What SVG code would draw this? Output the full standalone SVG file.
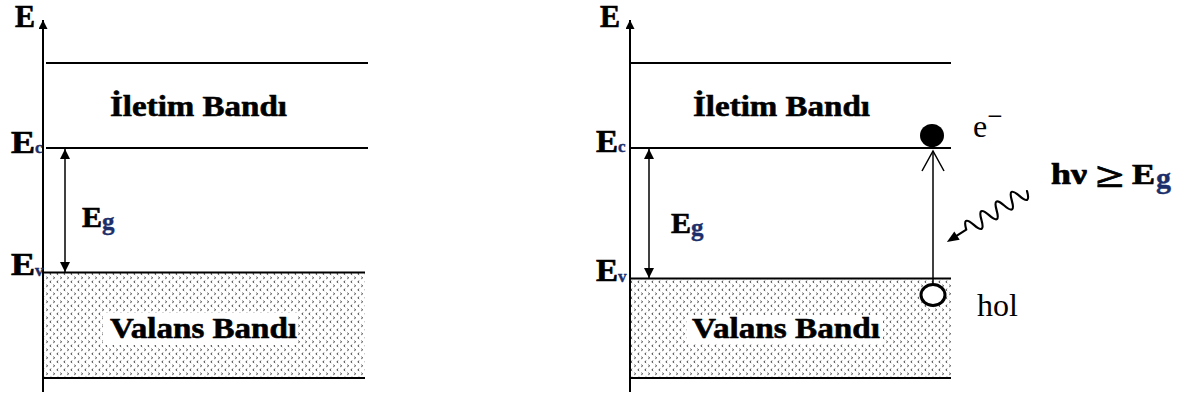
<svg xmlns="http://www.w3.org/2000/svg" width="1184" height="396" viewBox="0 0 1184 396">
  <style>
    .ln { stroke: #000; stroke-width: 2; fill: none; }
    .thin { stroke: #000; stroke-width: 1.5; fill: none; }
    .wave { stroke: #000; stroke-width: 2.2; fill: none; stroke-linecap: round; stroke-linejoin: round; }
    .lbl { font-family: "Liberation Serif", "Times New Roman", serif; font-weight: bold; fill: #000; stroke: #000; stroke-width: 0.7; }
    .band { font-family: "Liberation Serif", "Times New Roman", serif; font-weight: bold; font-size: 30px; fill: #000; stroke: #000; stroke-width: 0.6; }
    .sub { font-family: "Liberation Serif", "Times New Roman", serif; font-weight: bold; fill: #1d2f6b; stroke: #1d2f6b; stroke-width: 0.4; }
    .reg { font-family: "Liberation Serif", "Times New Roman", serif; fill: #000; }
    .chev { stroke: #444; stroke-width: 1; fill: none; }
  </style>
  <defs>
    <!-- stippled fill of the valence band: rows of tiny chevrons -->
    <pattern id="dots" width="7" height="8" patternUnits="userSpaceOnUse">
      <rect width="7" height="8" fill="#fff"/>
      <path class="chev" d="M2.2,0.8 L0.8,1.8 L2.2,2.8"/>
      <path class="chev" d="M4.3,4.8 L5.7,5.8 L4.3,6.8"/>
    </pattern>
    <marker id="tri" viewBox="0 0 10 10" refX="10" refY="5" markerWidth="10" markerHeight="10" markerUnits="userSpaceOnUse" orient="auto-start-reverse">
      <path d="M0,0 L10,5 L0,10 Z" fill="#000"/>
    </marker>
    <marker id="axisHead" viewBox="0 0 10 10" refX="10" refY="5" markerWidth="11" markerHeight="9" markerUnits="userSpaceOnUse" orient="auto">
      <path d="M0,0 L10,5 L0,10 Z" fill="#000"/>
    </marker>
  </defs>
  <rect width="1184" height="396" fill="#fff"/>

  <!-- Left panel: band diagram -->
  <g id="left-bands">
    <rect x="44" y="273" width="321" height="104" fill="url(#dots)"/>
    <rect x="103" y="313" width="195" height="32" fill="#fff"/>
    <line class="ln" x1="46" y1="63" x2="368" y2="63"/>
    <line class="ln" x1="46" y1="148" x2="368" y2="148"/>
    <line class="ln" x1="43" y1="272.5" x2="365" y2="272.5"/>
    <line class="ln" x1="43" y1="378" x2="365" y2="378"/>
    <text class="band" x="110" y="116" textLength="177" lengthAdjust="spacingAndGlyphs">İletim Bandı</text>
    <text class="band" x="110" y="338" textLength="187" lengthAdjust="spacingAndGlyphs">Valans Bandı</text>
  </g>
  <g id="left-axis">
    <line class="ln" x1="43" y1="392" x2="43" y2="20" marker-end="url(#axisHead)"/>
    <text class="lbl" font-size="31" x="15" y="27" textLength="20" lengthAdjust="spacingAndGlyphs">E</text>
    <text class="lbl" font-size="31" x="11" y="153" textLength="24" lengthAdjust="spacingAndGlyphs">E</text>
    <text class="sub" font-size="17" x="35" y="153">c</text>
    <text class="lbl" font-size="31" x="11" y="275" textLength="24" lengthAdjust="spacingAndGlyphs">E</text>
    <text class="sub" font-size="17" x="35" y="276">v</text>
  </g>
  <g id="left-gap">
    <line class="thin" x1="65" y1="149" x2="65" y2="272" marker-start="url(#tri)" marker-end="url(#tri)"/>
    <text class="lbl" font-size="30" x="82" y="227" textLength="20" lengthAdjust="spacingAndGlyphs">E</text>
    <text class="sub" font-size="25" x="102" y="230">g</text>
  </g>

  <!-- Right panel: band diagram with photon absorption -->
  <g id="right-bands">
    <rect x="631" y="279" width="320" height="98" fill="url(#dots)"/>
    <rect x="687" y="315" width="196" height="29" fill="#fff"/>
    <line class="ln" x1="630" y1="63" x2="951" y2="63"/>
    <line class="ln" x1="630" y1="148" x2="951" y2="148"/>
    <line class="ln" x1="630" y1="278.5" x2="951" y2="278.5"/>
    <line class="ln" x1="630" y1="378" x2="951" y2="378"/>
    <text class="band" x="693" y="116" textLength="177" lengthAdjust="spacingAndGlyphs">İletim Bandı</text>
    <text class="band" x="692" y="338" textLength="188" lengthAdjust="spacingAndGlyphs">Valans Bandı</text>
  </g>
  <g id="right-axis">
    <line class="ln" x1="630" y1="392" x2="630" y2="20" marker-end="url(#axisHead)"/>
    <text class="lbl" font-size="31" x="600" y="27" textLength="20" lengthAdjust="spacingAndGlyphs">E</text>
    <text class="lbl" font-size="31" x="596" y="152" textLength="22" lengthAdjust="spacingAndGlyphs">E</text>
    <text class="sub" font-size="17" x="618" y="152">c</text>
    <text class="lbl" font-size="31" x="596" y="281" textLength="22" lengthAdjust="spacingAndGlyphs">E</text>
    <text class="sub" font-size="17" x="618" y="282">v</text>
  </g>
  <g id="right-gap">
    <line class="thin" x1="649" y1="149" x2="649" y2="278" marker-start="url(#tri)" marker-end="url(#tri)"/>
    <text class="lbl" font-size="30" x="671" y="233" textLength="20" lengthAdjust="spacingAndGlyphs">E</text>
    <text class="sub" font-size="25" x="691" y="236">g</text>
  </g>
  <g id="electron">
    <ellipse cx="932" cy="135.5" rx="12" ry="11.5" fill="#000"/>
    <text class="reg" font-size="32" x="973" y="137">e<tspan font-size="27" dy="-12">−</tspan></text>
  </g>
  <g id="hole">
    <ellipse cx="933" cy="295" rx="12" ry="10.5" fill="#fff" stroke="#000" stroke-width="3"/>
    <text class="reg" font-size="32" x="977" y="316">hol</text>
  </g>
  <g id="photon">
    <text class="lbl" font-size="29" x="1051" y="184" textLength="36" lengthAdjust="spacingAndGlyphs">hν</text>
    <text class="lbl" font-size="34" x="1096" y="187" textLength="28" lengthAdjust="spacingAndGlyphs" stroke-width="0.8">≥</text>
    <text class="lbl" font-size="29" x="1132" y="184" textLength="23" lengthAdjust="spacingAndGlyphs">E</text>
    <text class="sub" font-size="30" x="1156" y="188">g</text>
  </g>

  <!-- Connectors: excitation arrow and incoming photon -->
  <g id="connectors">
    <line class="thin" x1="933" y1="284" x2="933" y2="151"/>
    <polyline class="thin" points="922,171 933,151 944,171"/>
    <g transform="translate(1027,191) rotate(147.5)">
      <path class="wave" d="M0,0 q4.5,-15 9,0 t9,0 t9,0 t9,0 t9,0 t9,0 t9,0 t9,0 L85,0"/>
      <path d="M83,-5 L95,0 L83,5 Z" fill="#000"/>
    </g>
  </g>
</svg>
